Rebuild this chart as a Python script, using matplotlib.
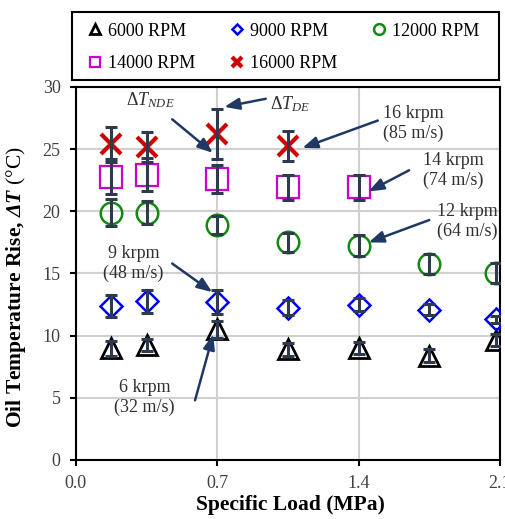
import matplotlib.pyplot as plt
from matplotlib.patches import Rectangle

plt.rcParams['font.family'] = ['Liberation Serif', 'DejaVu Serif']
plt.rcParams['mathtext.fontset'] = 'custom'
plt.rcParams['mathtext.rm'] = 'Liberation Serif'
plt.rcParams['mathtext.it'] = 'Liberation Serif:italic'
plt.rcParams['mathtext.bf'] = 'Liberation Serif:bold'
plt.rcParams['mathtext.bfit'] = 'Liberation Serif:italic:bold'

# specific load (MPa)
load = [0.175, 0.35, 0.7, 1.05, 1.4, 1.75, 2.08]

rpm6000 = [9.0, 9.25, 10.5, 8.9, 9.0, 8.4, 9.65]
err6000 = [0.6, 0.5, 0.7, 0.5, 0.5, 0.5, 0.5]
rpm9000 = [12.4, 12.75, 12.7, 12.25, 12.5, 12.1, 11.3]
err9000 = [0.9, 0.95, 0.95, 0.6, 0.5, 0.45, 0.3]
rpm12000 = [19.9, 19.9, 18.9, 17.5, 17.25, 15.75, 15.05]
err12000 = [1.1, 0.9, 0.75, 0.75, 0.85, 0.8, 0.8]
rpm14000 = [22.8, 22.95, 22.6, 21.95, 21.95]
err14000 = [1.4, 1.3, 1.1, 1.0, 1.0]
rpm16000 = [25.4, 25.2, 26.2, 25.25]
err16000 = [1.4, 1.2, 2.0, 1.2]

series = [
    ("6000 RPM", rpm6000, err6000, '^', 'black', 14, 2.0),
    ("9000 RPM", rpm9000, err9000, 'D', '#0000ff', 11, 1.8),
    ("12000 RPM", rpm12000, err12000, 'o', '#108a10', 15.5, 1.8),
    ("14000 RPM", rpm14000, err14000, 's', '#cc00cc', 15.5, 1.6),
    ("16000 RPM", rpm16000, err16000, 'x', '#d00000', 14, 3.0),
]

fig = plt.figure(figsize=(5.06, 5.19), dpi=100)
ax = fig.add_axes([0.150, 0.1137, 0.838, 0.7187])

err_color = '#2e3b4e'
handles = []
for name, y, e, m, c, ms, mew in series:
    x = load[:len(y)]
    h, = ax.plot(x, y, linestyle='none', marker=m, markersize=ms, markerfacecolor='none',
                 markeredgecolor=c, markeredgewidth=mew, label=name, zorder=3)
    handles.append(h)
    ax.errorbar(x, y, yerr=e, fmt='none', ecolor=err_color, elinewidth=2.2, capsize=4,
                capthick=2.2, zorder=4)

ax.set_xlim(0, 2.1)
ax.set_ylim(0, 30)
ax.set_xticks([0.0, 0.7, 1.4, 2.1])
ax.set_xticklabels(['0.0', '0.7', '1.4', '2.1'])
ax.set_yticks([0, 5, 10, 15, 20, 25, 30])
ax.grid(color='#d0d0d0', linewidth=1.5)
ax.set_axisbelow(True)
for s in ax.spines.values():
    s.set_linewidth(1.5)
ax.tick_params(direction='out', length=4, width=1.5, labelsize=13, labelcolor='#404040', pad=7)

ax.set_xlabel('Specific Load (MPa)', fontsize=15.5, fontweight='bold')
ax.xaxis.set_label_coords(0.505, -0.094)
ax.set_ylabel('Oil Temperature Rise, $\\mathbfit{\\Delta T}$ $\\mathrm{(°C)}$', fontsize=15.5,
              fontweight='bold')
ax.yaxis.set_label_coords(-0.113, 0.464)

# legend box drawn separately so the inner spacing can match
fig.patches.append(Rectangle((72 / 506, 1 - 80 / 519), 427 / 506, 68 / 519,
                             transform=fig.transFigure, fill=False, lw=1.5, ec='black'))
# legend filled column-wise, so order the handles to read row-wise
order = [0, 3, 1, 4, 2]
fig.legend(handles=[handles[i] for i in order], loc='upper left', ncol=3,
           bbox_to_anchor=(83 / 506, 1 - 22.5 / 519), frameon=False,
           fontsize=13, markerscale=0.5, handlelength=1.3, handletextpad=0.1,
           columnspacing=1.63, labelspacing=0.85, borderpad=0, borderaxespad=0)

arrow_color = '#1f3864'
arrow = dict(arrowstyle='-|>,head_length=0.9,head_width=0.35', color=arrow_color, lw=1.8,
             shrinkA=0, shrinkB=0)

def ann(tip, start):
    ax.annotate('', xy=tip, xytext=start, arrowprops=arrow, zorder=5)

txt = dict(fontsize=13, va='center', color='#303030')
ax.text(0.367, 28.96, '$\\mathit{\\Delta T_{NDE}}$', ha='center', **txt)
ann((0.678, 24.7), (0.477, 27.4))
ax.text(0.96, 28.6, '$\\mathit{\\Delta T_{DE}}$', ha='left', **txt)
ann((0.735, 28.4), (0.94, 29.05))

ax.text(1.67, 27.1, '16 krpm\n(85 m/s)', ha='center', **txt)
ann((1.122, 25.1), (1.495, 27.3))
ax.text(1.87, 23.3, '14 krpm\n(74 m/s)', ha='center', **txt)
ann((1.45, 21.6), (1.65, 23.3))
ax.text(1.94, 19.15, '12 krpm\n(64 m/s)', ha='center', **txt)
ann((1.45, 17.5), (1.75, 19.3))
ax.text(0.285, 15.8, '9 krpm\n(48 m/s)', ha='center', **txt)
ann((0.675, 13.5), (0.477, 15.8))
ax.text(0.34, 5.0, '6 krpm\n(32 m/s)', ha='center', **txt)
ann((0.68, 10.1), (0.59, 4.8))

fig.savefig('out.png', dpi=100)
